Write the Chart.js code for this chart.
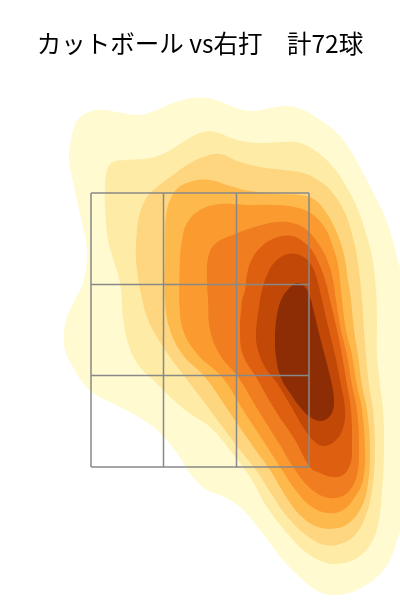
<!DOCTYPE html>
<html>
<head>
<meta charset="utf-8">
<script src="https://cdn.jsdelivr.net/npm/chart.js@4.4.1/dist/chart.umd.min.js"></script>
<style>
    html, body { margin: 0; padding: 0; background: #ffffff; }
    #wrap { position: relative; width: 400px; height: 600px; }
    #title {
        position: absolute; left: 0; top: 26px; width: 400px; height: 34px;
        line-height: 34px; text-align: center; font-size: 24.5px; color: #000;
        font-family: "Noto Sans CJK JP", "Noto Sans", sans-serif;
        white-space: pre;
    }
    canvas { position: absolute; left: 0; top: 0; }
</style>
</head>
<body>
<div id="wrap">
    <canvas id="kdeChart" width="400" height="600"></canvas>
    <div id="title">カットボール vs右打　計72球</div>
</div>
<script>
// contour outlines of the density, outer (lowest) to inner (highest), [x cm, height cm]
const level1 = [[-25,95.4],[-23.4,97],[-20.6,98],[-16.6,97.6],[-12,97],[-8.6,98],[-5.4,99.4],[-1.4,100.4],[2.4,100.2],[7.4,98.4],[10.6,97.8],[14,98.4],[17.4,98.8],[20.6,98],[24,96],[27.4,93.4],[30,90],[32.6,85.4],[35.4,80],[37.6,75],[39.4,68.6],[40.8,62],[41.2,40],[40.8,16],[39.6,12.6],[38,8],[35.4,4.6],[31.4,2],[27.4,1],[24,1.6],[20.6,4],[16.6,8],[12,14],[8,18.6],[4.4,20.8],[1,22.2],[-2,25.4],[-4.6,29.4],[-8,33.4],[-11,35.8],[-16,38.6],[-21.4,41.4],[-23.4,43.4],[-25.4,46.6],[-27,50],[-27.2,53.4],[-26.6,56.6],[-25,60],[-23.4,63.4],[-22.6,70],[-23.6,75.4],[-24.6,80],[-25.6,84.6],[-26.2,88.6],[-25.8,92]];
const level2 = [[-19,83.4],[-18.6,86],[-17.4,87.6],[-14.6,88],[-10,88.4],[-6.6,89.6],[-3.4,91.6],[0,93.4],[3,93.6],[7.4,92],[12,91.4],[16.6,91.6],[20,91.4],[23.4,89.6],[26.6,86.6],[29.2,82.8],[31.6,78],[33.4,72.6],[34.6,67.6],[35.2,62],[35.4,56],[35.4,49],[36,43],[36.6,38],[36.8,30],[36.4,22],[35.6,15],[34,11],[31.4,8.4],[28.6,7.4],[25.4,7.4],[21.4,9.4],[17.4,13.4],[13.4,18.6],[10,24.6],[6,30],[2,34.6],[-3,38],[-10,44.6],[-12.6,47.4],[-14.4,51.4],[-15.4,56.6],[-16,63.4],[-17.6,69],[-18.4,72],[-19,78.6]];
const level3 = [[-12,62],[-12.8,68],[-12.6,74],[-12,77.4],[-10.6,80.6],[-8.6,82.6],[-5.4,85],[-2.6,87],[0.6,88.6],[4,89.2],[7.4,87.8],[12,86.6],[16.6,86],[20.6,85.4],[23.6,84],[26.4,81.6],[29,77.4],[30.6,72.4],[31.6,67.4],[32.4,60],[32.8,54],[33.2,49],[33.8,43],[34.6,38],[35,30],[34.4,22],[33.2,17],[31,13],[28,11.2],[25,11],[22,12.4],[18,16],[14.4,21],[11.2,26],[7.2,31],[2,38],[-3,44.6],[-6,48.6],[-8.6,52.6],[-10.6,56.6]];
const level4 = [[-7,70],[-7,73],[-6.8,77],[-6,80],[-4.4,82.4],[-1.4,83.8],[2,84],[6,82.8],[10,81.8],[15.4,81.2],[20,81],[23,80],[25.4,77.2],[27.4,73.4],[28.8,69],[29.6,64],[30.2,60],[30.8,54],[31.6,49],[32.4,43],[33.4,38],[34,30],[33.4,22],[32,18],[30,15.6],[27.6,14.4],[23.6,14.6],[20,17],[17,21],[14,26],[10.4,31],[5.6,38],[1,44.6],[-3.4,49],[-6,54],[-7,60]];
const level5 = [[-4.2,60],[-4,68],[-3.6,72],[-2.6,75.4],[0,78],[4,79.2],[10,79],[15,79],[19,78.6],[22.4,77.2],[25,74.4],[26.6,70.6],[27.6,67],[28.4,60],[29.2,54],[30.4,49],[31.4,43],[32.4,38],[33,30],[32.6,24],[31,20.6],[28.6,18],[25.6,17.4],[22.4,18.6],[19.4,21.6],[16.4,26],[13.2,31],[8.6,38],[4.4,44.6],[-0.4,49],[-3.4,54]];
const level6 = [[1.6,60],[1.4,64],[1.6,68.4],[3,71.2],[7,73.2],[11.6,74.8],[15.6,75.6],[19.2,75.2],[21.6,73.8],[24,70.8],[25.6,67.6],[26.6,64],[27.2,60],[28.2,54],[29.4,49],[30.4,43],[31.4,38],[31.8,30],[31.4,25],[30,22],[28,20.6],[25,20.6],[22,22.4],[19,26],[16,31],[11.6,38],[7.6,44.6],[4,49],[2,54]];
const level7 = [[8.4,60],[9,62],[9.4,65],[10.2,67.8],[12,70.4],[15,72.4],[18.4,72.8],[21,71.4],[22.6,69.6],[24,66.8],[25.2,63.4],[26,60],[27.4,54],[28.4,49],[29.4,43],[30.2,38],[30.4,30],[30,27],[28.6,25],[26.4,24.6],[24,25.4],[22,26.6],[19,32],[15,38],[11.2,44.6],[8.6,49],[8,54]];
const level8 = [[12,60],[12.4,62],[13.4,65],[15,67.6],[17.6,69.2],[20.4,68.8],[22.4,66.8],[23.6,63.4],[24.4,60],[25.8,54],[27,49],[28.2,43],[29,38],[28.6,34.4],[27.2,32],[25,30.8],[23,31.6],[21,34],[18.4,38.4],[15.4,43.4],[13,46.6],[11.6,50],[11.2,53.4]];
const level9 = [[18,62.6],[19.4,63.4],[21,62.6],[22,60.6],[22.8,57.6],[24,52.6],[25.2,48],[26.4,43],[26.8,40],[26.6,38],[25.6,36.4],[24,35.8],[22,36.6],[20,38.6],[18,41.4],[16.2,44.4],[15.2,48.6],[15,52.6],[15.4,57],[16.4,60.4]];

const levels = [level1, level2, level3, level4, level5, level6, level7, level8, level9];
const levelColors = ['#fffad0', '#feeba5', '#fed680', '#feb94d', '#fb9b2f', '#f07e21', '#dd5f0f', '#c14807', '#8c2d05'];

// strike zone, 3x3 grid
const zoneX = [-21.8, -7.3, 7.3, 21.8];
const zoneY = [26.6, 44.9, 63.1, 81.4];

function buildDatasets() {
    const datasets = [];
    levels.forEach((pts, i) => {
        const data = pts.map(p => ({ x: p[0], y: p[1] }));
        data.push({ x: pts[0][0], y: pts[0][1] });
        datasets.push({
            data: data,
            showLine: true,
            fill: 'shape',
            backgroundColor: levelColors[i],
            borderWidth: 0,
            borderColor: 'rgba(0,0,0,0)',
            pointRadius: 0,
            tension: 0.4,
            order: 100 - i
        });
    });
    const gridStyle = {
        showLine: true,
        fill: false,
        borderColor: '#888888',
        borderWidth: 1.5,
        pointRadius: 0,
        tension: 0,
        order: 1
    };
    zoneX.forEach(x => {
        datasets.push(Object.assign({ data: [{ x: x, y: zoneY[0] }, { x: x, y: zoneY[3] }] }, gridStyle));
    });
    zoneY.forEach(y => {
        datasets.push(Object.assign({ data: [{ x: zoneX[0], y: y }, { x: zoneX[3], y: y }] }, gridStyle));
    });
    return datasets;
}

const ctx = document.getElementById('kdeChart');
new Chart(ctx.getContext('2d'), {
    type: 'scatter',
    data: { datasets: buildDatasets() },
    options: {
        responsive: false,
        animation: false,
        layout: { padding: 0 },
        elements: { line: { capBezierPoints: false } },
        plugins: {
            legend: { display: false },
            tooltip: { enabled: false },
            title: { display: false }
        },
        scales: {
            x: { type: 'linear', min: -40, max: 40, display: false },
            y: { type: 'linear', min: 0, max: 120, display: false }
        }
    }
});
</script>
</body>
</html>
